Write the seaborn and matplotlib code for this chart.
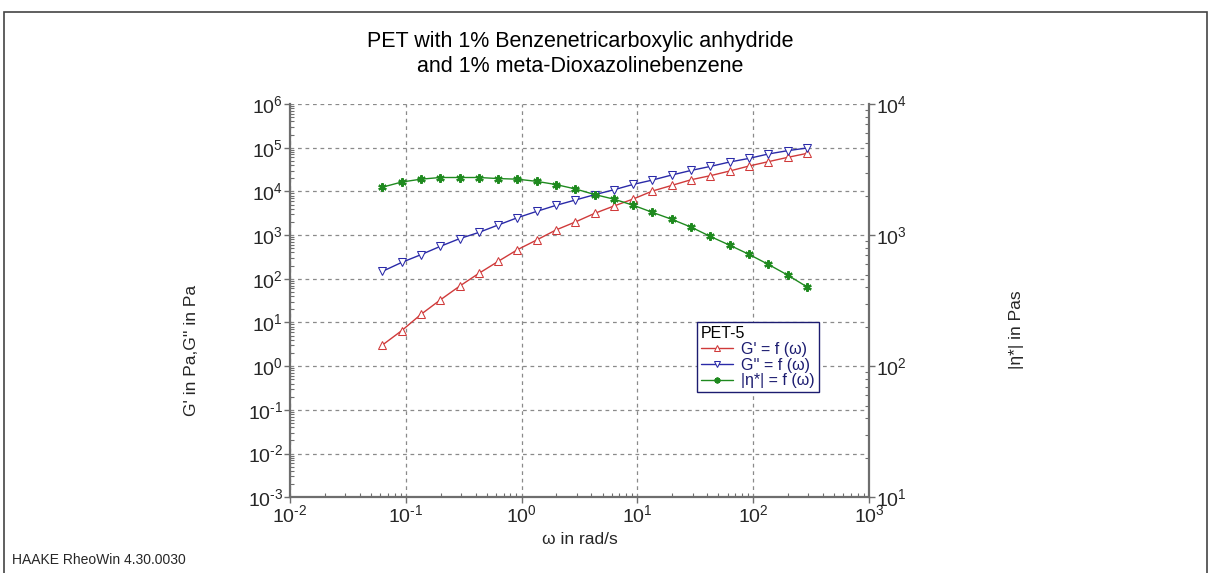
import numpy as np
import matplotlib
matplotlib.use('Agg')
import matplotlib.pyplot as plt
from matplotlib.patches import Rectangle
from matplotlib.ticker import FuncFormatter
import seaborn as sns

# angular frequency (rad/s)
omega = [0.0628, 0.0921, 0.135, 0.198, 0.291, 0.427, 0.627, 0.920, 1.35, 1.98,
         2.91, 4.27, 6.27, 9.20, 13.5, 19.8, 29.1, 42.7, 62.7, 92.0, 135, 198, 291]

# storage modulus G' (Pa)
g_storage = [3.05, 6.5, 15.3, 32.7, 67.7, 133, 250, 463, 773, 1310, 1995,
             3140, 4630, 6700, 10200, 13700, 18500, 22900, 29300, 38100, 47900, 60000, 74100]

# loss modulus G'' (Pa)
g_loss = [148, 237, 356, 551, 828, 1150, 1700, 2500, 3490, 4790, 6350,
          8400, 10900, 14450, 18200, 23700, 30200, 37300, 47100, 56900, 71800, 85400, 98400]

# complex viscosity |eta*| (Pas)
eta = [2320, 2540, 2670, 2750, 2750, 2750, 2700, 2670, 2570, 2430, 2250,
       2040, 1880, 1690, 1490, 1320, 1150, 976, 837, 713, 598, 496, 403]

red = '#d03a3a'
blue = '#2a2aa8'
green = '#1f8a1f'
spine_col = '#6e6e6e'

sns.set_style('ticks')
plt.rcParams['font.family'] = ['Liberation Sans', 'DejaVu Sans']
plt.rcParams['mathtext.fontset'] = 'custom'
plt.rcParams['mathtext.rm'] = 'Liberation Sans'
plt.rcParams['mathtext.it'] = 'Liberation Sans:italic'
plt.rcParams['axes.unicode_minus'] = False


def pow10(v, pos):
    k = int(round(np.log10(v)))
    exp = str(k).replace('-', '\u2010')
    return '$\\mathrm{10^{%s}}$' % exp


fig = plt.figure(figsize=(12.1, 5.73), dpi=100)
ax = fig.add_axes([290/1210, 1 - 497.3/573, (869 - 290)/1210, (497.3 - 104)/573])
ax2 = ax.twinx()

sns.lineplot(x=omega, y=g_storage, ax=ax, color=red, marker='^', markersize=5.5,
             markerfacecolor='white', markeredgecolor=red, lw=1, label="G' = f (ω)", legend=False)
sns.lineplot(x=omega, y=g_loss, ax=ax, color=blue, marker='v', markersize=5.5,
             markerfacecolor='white', markeredgecolor=blue, lw=1, label="G'' = f (ω)", legend=False)
sns.lineplot(x=omega, y=eta, ax=ax2, color=green, marker=(6, 2, 0), markersize=6,
             markeredgewidth=1.6, markeredgecolor=green, lw=1, label='|η*| = f (ω)', legend=False)

ax.set_xscale('log')
ax.set_yscale('log')
ax2.set_yscale('log')
ax.set_xlim(1e-2, 1e3)
ax.set_ylim(1e-3, 1e6)
ax2.set_ylim(1e1, 1e4)

ax.grid(which='major', axis='both', ls=(0, (3, 3)), color='#8a8a8a', lw=0.9)
ax2.grid(False)

for a in (ax, ax2):
    a.spines['top'].set_visible(False)
    for s in ('left', 'bottom', 'right'):
        a.spines[s].set_color(spine_col)
        a.spines[s].set_linewidth(1.6)
ax.spines['right'].set_visible(False)
ax2.spines['left'].set_visible(False)
ax2.spines['bottom'].set_visible(False)

ax.tick_params(which='major', direction='out', length=4, width=1, color=spine_col,
               labelsize=14, pad=1)
ax.tick_params(which='minor', direction='in', length=3, width=0.8, color=spine_col)
ax2.tick_params(which='major', direction='out', length=4, width=1, color=spine_col,
                labelsize=14, pad=1)
ax2.tick_params(which='minor', direction='in', length=3, width=0.8, color=spine_col)
ax.set_xticks([1e-2, 1e-1, 1e0, 1e1, 1e2, 1e3])
ax.set_yticks([10.0**k for k in range(-3, 7)])
ax2.set_yticks([1e1, 1e2, 1e3, 1e4])
ax.xaxis.set_major_formatter(FuncFormatter(pow10))
ax.yaxis.set_major_formatter(FuncFormatter(pow10))
ax2.yaxis.set_major_formatter(FuncFormatter(pow10))

ax.set_xlabel('')
ax.set_ylabel('')
ax2.set_ylabel('')

fig.text(580/1210, 1 - 54/573, 'PET with 1% Benzenetricarboxylic anhydride\nand 1% meta-Dioxazolinebenzene',
         ha='center', va='center', fontsize=15.5, linespacing=1.3, color='black')
fig.text(580/1210, 1 - 539/573, 'ω in rad/s', ha='center', va='center', fontsize=12.5)
fig.text(192/1210, 1 - 350/573, "G' in Pa,G'' in Pa", ha='center', va='center',
         rotation=90, fontsize=12.5)
fig.text(1017/1210, 1 - 330/573, '|η*| in Pas', ha='center', va='center',
         rotation=90, fontsize=12.5)
fig.text(12/1210, 1 - 560/573, 'HAAKE RheoWin 4.30.0030', ha='left', va='center',
         fontsize=10)

handles = ax.get_lines()[:2] + ax2.get_lines()[:1]
labels = ["G' = f (ω)", "G'' = f (ω)", '|η*| = f (ω)']
leg = ax2.legend(handles, labels, title='PET-5', loc='upper left',
                 bbox_to_anchor=(697/1210, 1 - 322/573), bbox_transform=fig.transFigure,
                 borderaxespad=0, fontsize=11.5, title_fontsize=11.5, labelcolor='#1c1c70',
                 frameon=True, fancybox=False, edgecolor='#1c1c70', framealpha=1,
                 handlelength=2, handletextpad=0.5, borderpad=0.25, labelspacing=0.05,
                 alignment='left', markerscale=0.7)
leg.get_frame().set_linewidth(1)
leg.get_title().set_color('black')

fig.patches.append(Rectangle((4/1210, -0.05), 1203/1210, (573 - 12)/573 + 0.05,
                             transform=fig.transFigure, fill=False, lw=1.2,
                             edgecolor='#444444', figure=fig))

fig.savefig('out.png', dpi=100)
